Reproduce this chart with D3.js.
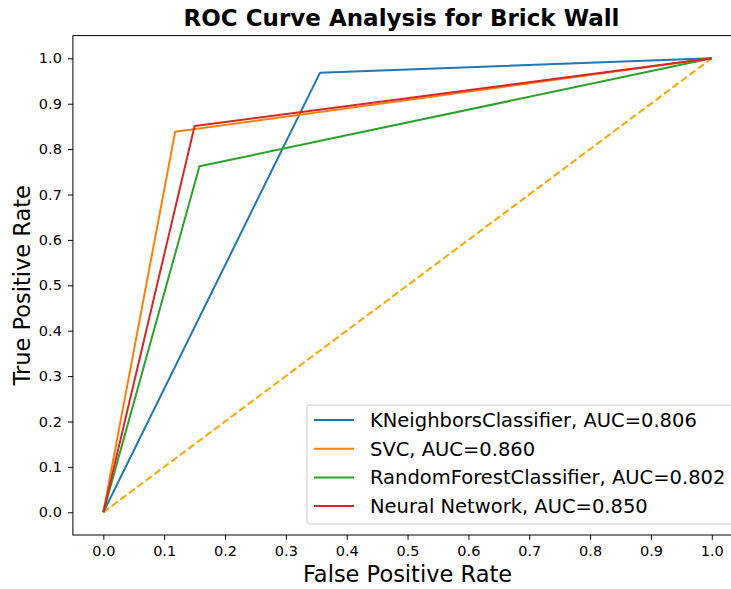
<!DOCTYPE html>
<html><head><meta charset="utf-8">
<script src="https://cdn.jsdelivr.net/npm/d3@7"></script>
<style>body{margin:0;background:#fff;} svg{display:block;font-family:"DejaVu Sans",sans-serif;}</style>
</head><body><svg id="c" width="731" height="589"></svg>
<script>
const models = ["KNeighborsClassifier", "SVC", "RandomForestClassifier", "Neural Network"];
const aucs = ["0.806", "0.860", "0.802", "0.850"];
const colors = ["#1f77b4", "#ff7f0e", "#2ca02c", "#d62728"];
const fprKnee = [0.356, 0.118, 0.158, 0.150];
const tprKnee = [0.968, 0.838, 0.762, 0.851];
const ticks = [0.0,0.1,0.2,0.3,0.4,0.5,0.6,0.7,0.8,0.9,1.0];

const svg = d3.select("#c");
const L=72.9, R=742.2, T=35.6, B=535;
const x = d3.scaleLinear().domain([-0.05,1.05]).range([L,R]);
const y = d3.scaleLinear().domain([-0.05,1.05]).range([B,T]);

// diagonal
svg.append("path").attr("d", d3.line()([[x(0),y(0)],[x(1),y(1)]]))
  .attr("stroke","orange").attr("stroke-width",2).attr("fill","none").attr("stroke-dasharray","7.4,3.2");

const line = d3.line().x(d=>x(d[0])).y(d=>y(d[1]));
models.forEach((m,i)=>{
  const pts=[[0,0],[fprKnee[i],tprKnee[i]],[1,1]];
  svg.append("path").attr("d", line(pts)).attr("stroke",colors[i]).attr("stroke-width",2)
    .attr("fill","none").attr("stroke-linejoin","round");
});

const xa = svg.append("g").attr("transform",`translate(0,${B})`)
  .call(d3.axisBottom(x).tickValues(ticks).tickFormat(d3.format(".1f")).tickSizeOuter(0).tickSize(4.8).tickPadding(5.9));
const ya = svg.append("g").attr("transform",`translate(${L},0)`)
  .call(d3.axisLeft(y).tickValues(ticks).tickFormat(d3.format(".1f")).tickSizeOuter(0).tickSize(4.8).tickPadding(6.2));
[xa,ya].forEach(a=>{
  a.selectAll("text").attr("font-size",14.5).attr("font-family","DejaVu Sans").attr("fill","#000");
  a.selectAll("line").attr("stroke","#000").attr("stroke-width",1);
  a.select(".domain").remove();
});
// spines
svg.append("rect").attr("x",L).attr("y",T).attr("width",R-L).attr("height",B-T)
  .attr("fill","none").attr("stroke","#000").attr("stroke-width",1);

svg.append("text").attr("x",(L+R)/2-6).attr("y",26).attr("text-anchor","middle")
  .attr("font-size",23).attr("font-weight","bold").text("ROC Curve Analysis for Brick Wall");
svg.append("text").attr("x",(L+R)/2).attr("y",582).attr("text-anchor","middle")
  .attr("font-size",22.5).text("False Positive Rate");
svg.append("text").attr("transform",`translate(29.5,${(T+B)/2}) rotate(-90)`).attr("text-anchor","middle")
  .attr("font-size",22.5).text("True Positive Rate");

// legend
const lg = svg.append("g");
lg.append("rect").attr("x",307).attr("y",405).attr("width",440).attr("height",119).attr("rx",3)
  .attr("fill","#fff").attr("fill-opacity",0.8).attr("stroke","#cccccc").attr("stroke-width",1);
models.forEach((m,i)=>{
  const yy = 420 + i*28.7;
  lg.append("line").attr("x1",314).attr("x2",354).attr("y1",yy).attr("y2",yy).attr("stroke",colors[i]).attr("stroke-width",2);
  lg.append("text").attr("x",370).attr("y",yy).attr("dy","0.36em").attr("font-size",19.5).text(`${m}, AUC=${aucs[i]}`);
});
</script></body></html>
